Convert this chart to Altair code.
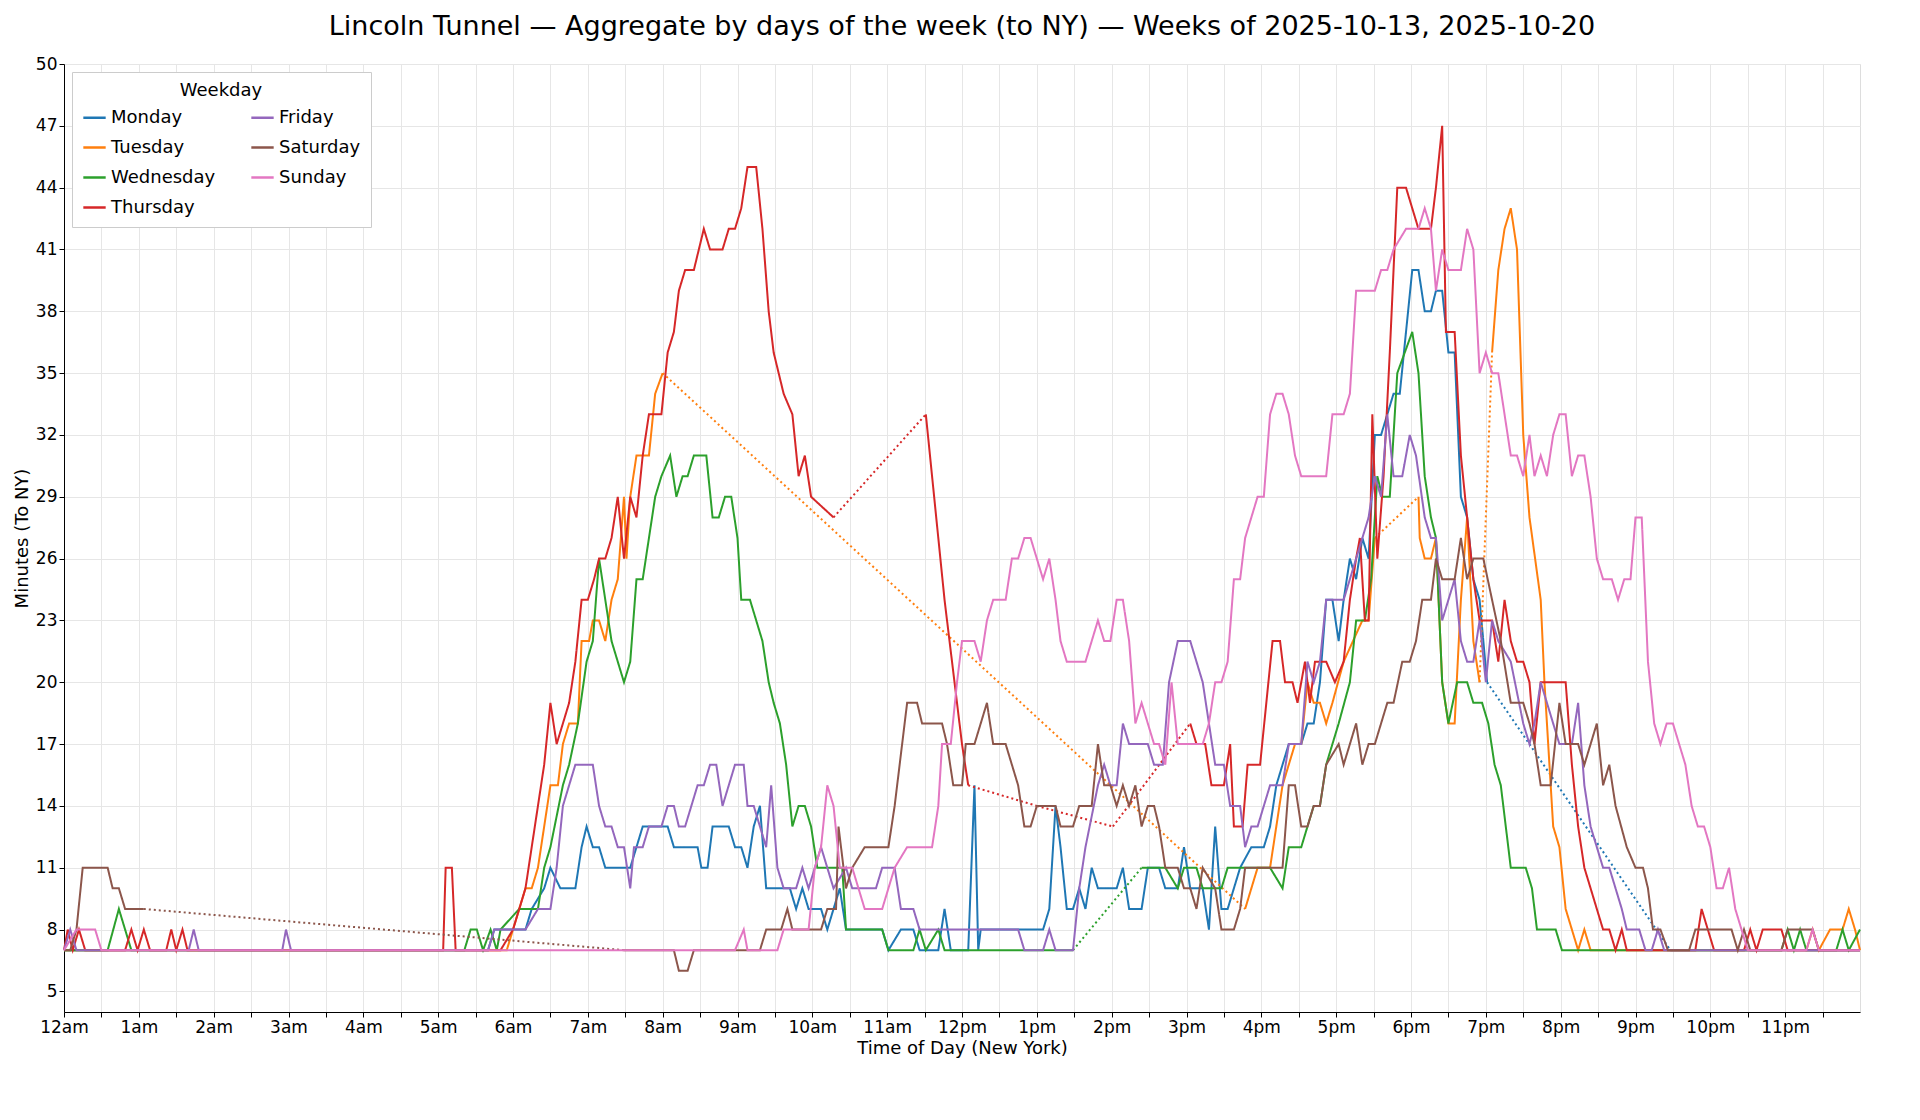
import altair as alt
import pandas as pd

# (minute of day, minutes to NY)
MONDAY = [(0,7),(340,7),(345,8),(370,8),(375,9),(385,10),(390,11),(398,10),(410,10),(415,12),(419,13),(424,12),(429,12),(434,11),(454,11),(459,12),(464,13),(484,13),(489,12),(508,12),(511,11),(516,11),(520,13),(533,13),(538,12),(543,12),(548,11),(553,13),(558,14),(563,10),(582,10),(587,9),(592,10),(597,9),(607,9),(612,8),(617,9),(622,10),(627,8),(656,8),(661,7),(671,8),(681,8),(686,7),(701,7),(706,9),(711,7),(725,7),(730,15),(733,7),(735,8),(785,8),(790,9),(795,14),(799,12),(804,9),(809,9),(814,10),(819,9),(824,11),(829,10),(844,10),(849,11),(854,9),(864,9),(869,11),(878,11),(883,10),(893,10),(898,12),(903,10),(913,10),(918,8),(923,13),(928,9),(933,9),(943,11),(952,12),(962,12),(967,13),(972,15),(982,17),(992,17),(997,18),(1002,18),(1007,20),(1012,24),(1017,24),(1022,22),(1026,24),(1031,26),(1036,25),(1041,27),(1046,26),(1051,32),(1056,32),(1061,33),(1066,34),(1071,34),(1076,37),(1081,40),(1086,40),(1091,38),(1096,38),(1100,39),(1105,39),(1110,36),(1115,36),(1120,29),(1125,28),(1130,25),(1135,24),(1141,20),(1288,7),(1440,7)]
TUESDAY = [(0,7),(355,7),(365,9),(370,10),(375,10),(380,11),(385,13),(390,15),(396,15),(400,17),(405,18),(412,18),(415,22),(421,22),(424,23),(429,23),(434,22),(439,24),(444,25),(449,29),(451,26),(454,29),(459,31),(469,31),(474,34),(480,35),(947,9),(952,10),(957,11),(967,11),(972,13),(977,15),(982,16),(987,17),(992,17),(997,20),(1002,19),(1007,19),(1012,18),(1017,19),(1026,21),(1041,23),(1046,23),(1051,27),(1086,29),(1087,27),(1091,26),(1096,26),(1100,27),(1105,20),(1110,18),(1115,18),(1120,24),(1125,28),(1130,22),(1135,20),(1145,36),(1150,40),(1155,42),(1160,43),(1165,41),(1170,32),(1175,28),(1184,24),(1187,20),(1194,13),(1199,12),(1204,9),(1214,7),(1219,8),(1224,7),(1397,7),(1402,8),(1407,7),(1416,8),(1426,8),(1431,9),(1436,8),(1440,7)]
WEDNESDAY = [(0,7),(35,7),(44,9),(49,8),(54,7),(321,7),(326,8),(331,8),(336,7),(342,8),(347,7),(350,8),(365,9),(380,9),(385,11),(390,12),(400,15),(405,16),(412,18),(419,21),(424,22),(429,26),(434,24),(439,22),(444,21),(449,20),(454,21),(459,25),(464,25),(469,27),(474,29),(479,30),(486,31),(491,29),(496,30),(500,30),(505,31),(515,31),(520,28),(525,28),(530,29),(535,29),(540,27),(543,24),(550,24),(555,23),(560,22),(565,20),(569,19),(574,18),(579,16),(584,13),(589,14),(594,14),(599,13),(604,11),(624,11),(627,8),(656,8),(661,7),(681,7),(686,8),(691,7),(701,8),(706,7),(809,7),(864,11),(883,11),(893,10),(898,11),(908,11),(913,10),(928,10),(933,11),(967,11),(977,10),(982,12),(992,12),(1002,14),(1007,14),(1012,16),(1022,18),(1031,20),(1036,23),(1043,23),(1048,25),(1053,30),(1057,29),(1063,29),(1069,35),(1075,36),(1081,37),(1086,35),(1091,30),(1096,28),(1100,27),(1105,20),(1110,18),(1117,20),(1125,20),(1130,19),(1137,19),(1142,18),(1147,16),(1152,15),(1160,11),(1172,11),(1177,10),(1181,8),(1196,8),(1201,7),(1377,7),(1382,8),(1387,7),(1392,8),(1397,7),(1421,7),(1426,8),(1431,7),(1440,8)]
THURSDAY = [(0,7),(3,8),(7,7),(12,8),(17,7),(49,7),(54,8),(59,7),(64,8),(69,7),(82,7),(86,8),(90,7),(95,8),(99,7),(304,7),(306,11),(311,11),(314,7),(350,7),(360,8),(370,10),(375,12),(380,14),(385,16),(390,19),(395,17),(400,18),(405,19),(410,21),(415,24),(420,24),(425,25),(429,26),(434,26),(439,27),(444,29),(449,26),(454,29),(459,28),(464,31),(469,33),(479,33),(484,36),(489,37),(493,39),(498,40),(505,40),(513,42),(518,41),(528,41),(533,42),(538,42),(543,43),(548,45),(555,45),(560,42),(565,38),(569,36),(577,34),(584,33),(589,30),(594,31),(599,29),(617,28),(691,33),(696,30),(706,24),(716,19),(720,17),(725,15),(780,14),(841,13),(903,18),(908,17),(915,17),(920,15),(930,15),(935,17),(938,13),(945,13),(949,16),(959,16),(964,19),(969,22),(975,22),(979,20),(985,20),(989,19),(995,21),(999,19),(1003,21),(1012,21),(1019,20),(1026,21),(1031,24),(1036,26),(1039,27),(1043,23),(1046,23),(1049,33),(1053,26),(1058,30),(1063,36),(1069,44),(1076,44),(1081,43),(1086,42),(1096,42),(1100,44),(1105,47),(1108,37),(1115,37),(1120,31),(1125,28),(1130,25),(1135,23),(1145,23),(1150,21),(1155,24),(1160,22),(1165,21),(1170,21),(1175,20),(1179,17),(1184,20),(1204,20),(1209,16),(1214,13),(1219,11),(1229,9),(1234,8),(1239,8),(1244,7),(1249,8),(1253,7),(1308,7),(1313,9),(1318,8),(1323,7),(1347,7),(1352,8),(1357,7),(1362,8),(1377,8),(1382,7),(1440,7)]
FRIDAY = [(0,7),(5,8),(10,7),(100,7),(104,8),(108,7),(175,7),(178,8),(182,7),(340,7),(345,8),(370,8),(380,9),(390,9),(395,11),(400,14),(405,15),(410,16),(424,16),(429,14),(434,13),(439,13),(444,12),(449,12),(454,10),(457,12),(464,12),(469,13),(479,13),(484,14),(489,14),(493,13),(498,13),(508,15),(513,15),(518,16),(523,16),(528,14),(533,15),(538,16),(545,16),(548,14),(553,14),(558,13),(563,12),(567,15),(572,11),(577,10),(587,10),(592,11),(597,10),(602,11),(607,12),(612,11),(617,10),(627,11),(632,10),(651,10),(656,11),(666,11),(671,9),(681,9),(686,8),(765,8),(770,7),(785,7),(790,8),(795,7),(809,7),(814,10),(819,12),(829,15),(834,16),(839,15),(844,15),(849,18),(854,17),(869,17),(874,16),(881,16),(886,20),(893,22),(903,22),(908,21),(913,20),(918,18),(923,16),(930,16),(935,14),(943,14),(947,12),(952,13),(957,13),(962,14),(967,15),(977,15),(982,17),(992,17),(997,21),(1002,20),(1007,21),(1012,24),(1026,24),(1031,25),(1036,26),(1041,27),(1046,28),(1051,30),(1056,29),(1061,33),(1066,30),(1073,30),(1079,32),(1084,31),(1091,28),(1096,27),(1100,27),(1105,23),(1110,24),(1115,25),(1120,22),(1125,21),(1130,21),(1135,23),(1140,20),(1145,23),(1150,22),(1160,21),(1170,18),(1175,17),(1179,18),(1184,20),(1189,19),(1199,17),(1209,17),(1214,19),(1219,15),(1224,13),(1229,12),(1234,11),(1239,11),(1244,10),(1249,9),(1253,8),(1263,8),(1268,7),(1273,7),(1278,8),(1283,7),(1440,7)]
SATURDAY = [(0,7),(5,7),(10,8),(15,11),(35,11),(39,10),(44,10),(49,9),(64,9),(449,7),(489,7),(493,6),(500,6),(505,7),(558,7),(563,8),(575,8),(580,9),(584,8),(607,8),(612,9),(619,9),(621,13),(625,11),(627,10),(632,11),(642,12),(661,12),(666,14),(676,19),(684,19),(688,18),(704,18),(708,17),(713,15),(720,15),(723,17),(730,17),(740,19),(745,17),(755,17),(760,16),(765,15),(770,13),(775,13),(780,14),(795,14),(799,13),(809,13),(814,14),(824,14),(829,17),(834,15),(839,15),(844,14),(849,15),(854,14),(859,15),(864,13),(869,14),(874,14),(878,13),(883,11),(893,11),(898,10),(903,10),(908,9),(913,11),(923,10),(928,8),(938,8),(943,9),(947,11),(977,11),(982,15),(987,15),(992,13),(997,13),(1002,14),(1007,14),(1012,16),(1022,17),(1026,16),(1031,17),(1036,18),(1041,16),(1046,17),(1051,17),(1061,19),(1066,19),(1073,21),(1079,21),(1084,22),(1089,24),(1096,24),(1100,26),(1105,25),(1115,25),(1120,27),(1125,25),(1130,26),(1138,26),(1145,24),(1152,22),(1160,19),(1170,19),(1175,18),(1179,17),(1184,15),(1192,15),(1199,19),(1204,17),(1214,17),(1219,16),(1224,17),(1229,18),(1234,15),(1239,16),(1244,14),(1253,12),(1260,11),(1266,11),(1270,10),(1274,8),(1280,8),(1286,7),(1303,7),(1308,8),(1337,8),(1342,7),(1347,8),(1352,7),(1377,7),(1382,8),(1402,8),(1407,7),(1440,7)]
SUNDAY = [(0,7),(10,8),(25,8),(30,7),(538,7),(545,8),(548,7),(572,7),(577,8),(597,8),(602,11),(607,12),(612,15),(617,14),(622,11),(632,11),(642,9),(656,9),(661,10),(666,11),(676,12),(696,12),(701,14),(704,17),(711,17),(716,20),(720,22),(730,22),(735,21),(740,23),(745,24),(755,24),(760,26),(765,26),(770,27),(775,27),(780,26),(785,25),(790,26),(795,24),(799,22),(804,21),(819,21),(824,22),(829,23),(834,22),(839,22),(844,24),(849,24),(854,22),(859,18),(864,19),(874,17),(878,17),(883,16),(888,20),(893,17),(913,17),(918,18),(923,20),(928,20),(933,21),(938,25),(943,25),(947,27),(952,28),(957,29),(962,29),(967,33),(972,34),(977,34),(982,33),(987,31),(992,30),(1012,30),(1017,33),(1026,33),(1031,34),(1036,39),(1051,39),(1056,40),(1061,40),(1066,41),(1076,42),(1086,42),(1091,43),(1096,42),(1100,39),(1105,41),(1110,40),(1120,40),(1125,42),(1130,41),(1135,35),(1140,36),(1145,35),(1150,35),(1155,33),(1160,31),(1165,31),(1170,30),(1175,32),(1179,30),(1184,31),(1189,30),(1194,32),(1199,33),(1204,33),(1209,30),(1214,31),(1219,31),(1224,29),(1229,26),(1234,25),(1241,25),(1246,24),(1251,25),(1256,25),(1260,28),(1265,28),(1270,21),(1275,18),(1280,17),(1285,18),(1290,18),(1295,17),(1300,16),(1305,14),(1310,13),(1315,13),(1320,12),(1325,10),(1330,10),(1335,11),(1340,9),(1345,8),(1350,7),(1397,7),(1402,8),(1407,7),(1440,7)]

DAYS = ["Monday", "Tuesday", "Wednesday", "Thursday", "Friday", "Saturday", "Sunday"]
SERIES = [MONDAY, TUESDAY, WEDNESDAY, THURSDAY, FRIDAY, SATURDAY, SUNDAY]
# start minute of each segment drawn dotted (gap in data)
DOTTED = {
    "Monday": [1141],
    "Tuesday": [480, 1051, 1135],
    "Wednesday": [809],
    "Thursday": [617, 725, 780, 841],
    "Friday": [],
    "Saturday": [64],
    "Sunday": [],
}
COLORS = ["#1f77b4", "#ff7f0e", "#2ca02c", "#d62728", "#9467bd", "#8c564b", "#e377c2"]

rows = []
for day, pts in zip(DAYS, SERIES):
    piece = 0
    for i in range(len(pts) - 1):
        (t0, v0), (t1, v1) = pts[i], pts[i + 1]
        if t0 in DOTTED[day]:
            piece += 1
            pid, style = f"{day}-{piece}", "dotted"
            piece += 1
        else:
            pid, style = f"{day}-{piece}", "solid"
        rows.append(dict(day=day, t=t0, v=v0, pid=pid, style=style, o=2 * i))
        rows.append(dict(day=day, t=t1, v=v1, pid=pid, style=style, o=2 * i + 1))
df = pd.DataFrame(rows)

label_expr = ("datum.value % 60 != 0 ? '' : "
              "(datum.value/60 == 0 ? '12am' : datum.value/60 == 12 ? '12pm' : "
              "datum.value/60 < 12 ? (datum.value/60) + 'am' : (datum.value/60 - 12) + 'pm')")

chart = alt.Chart(df).mark_line(strokeWidth=2).encode(
    alt.X("t:Q")
        .scale(domain=[0, 1440], nice=False)
        .axis(values=list(range(0, 1440, 30)), labelExpr=label_expr, gridColor="#e6e6e6",
              labelFontSize=17, titleFontSize=18, titleFontWeight="normal", labelFlush=False,
              labelColor="black", titleColor="black", tickColor="black", domainColor="black")
        .title("Time of Day (New York)"),
    alt.Y("v:Q")
        .scale(domain=[4, 50], nice=False)
        .axis(values=list(range(5, 51, 3)), gridColor="#e6e6e6", labelFontSize=17,
              titleFontSize=18, titleFontWeight="normal",
              labelColor="black", titleColor="black", tickColor="black", domainColor="black")
        .title("Minutes (To NY)"),
    alt.Color("day:N")
        .scale(domain=DAYS, range=COLORS)
        .legend(title="Weekday", orient="top-left", columns=2, symbolType="stroke",
                symbolStrokeWidth=2.5, symbolSize=500, labelFontSize=18, titleFontSize=18,
                titleFontWeight="normal", fillColor="white", strokeColor="#cccccc",
                padding=10, columnPadding=30, rowPadding=8, titleAnchor="middle",
                labelColor="black", titleColor="black", offset=8),
    alt.StrokeDash("style:N")
        .scale(domain=["solid", "dotted"], range=[[1, 0], [2, 3]])
        .legend(None),
    alt.Detail("pid:N"),
    alt.Order("o:Q"),
).properties(
    width=1796,
    height=948,
    title=alt.Title("Lincoln Tunnel — Aggregate by days of the week (to NY) — Weeks of 2025-10-13, 2025-10-20",
                    fontSize=27, fontWeight="normal", color="black", offset=14),
).configure_view(stroke="black").configure(font="DejaVu Sans")

chart.save("out.html", embed_options={"renderer": "svg", "actions": False})
